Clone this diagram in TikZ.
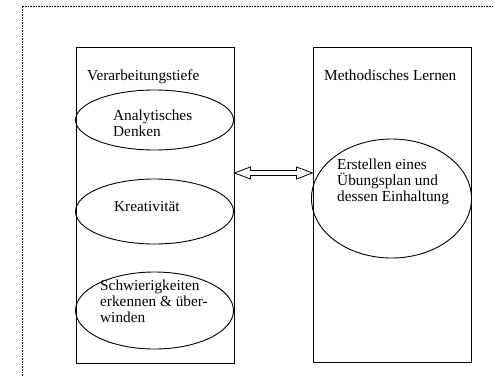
\documentclass[tikz,border=0pt]{standalone}
\usepackage{fontspec}
\setmainfont{Liberation Serif}
\usetikzlibrary{shapes.geometric,calc}
\begin{document}
\begin{tikzpicture}[x=1pt,y=-1pt,
  txt/.style={font=\fontsize{15.3}{15.8}\selectfont, inner sep=0pt, align=left},
  panel/.style={draw, line width=0.9pt},
  oval/.style={draw, ellipse, line width=0.9pt, inner sep=0pt},
  frame/.style={line width=0.6pt, dash pattern=on 0.8pt off 0.8pt},
  twoway/.style={draw, line width=0.8pt, fill=white, line join=miter}]
\useasboundingbox (0,0) rectangle (494,375);

% dotted outer frame, open towards the right and bottom
\coordinate (fbl) at (22,376);
\coordinate (ftl) at (22,6);
\coordinate (ftr) at (495,6);
\draw[frame] (fbl) -- (ftl) -- (ftr);

% the two panels
\node[panel, minimum width=158pt, minimum height=316pt, anchor=north west] (depth) at (75.5,47) {};
\node[panel, minimum width=158pt, minimum height=315pt, anchor=north west] (method) at (312.5,47) {};

\node[txt, anchor=base west] (depthT) at (87,80) {Verarbeitungstiefe};
\node[txt, anchor=base west] (methodT) at (324,80) {Methodisches Lernen};

% ovals in the left panel (text anchored at the baseline of its last line)
\node[oval, minimum width=158pt, minimum height=60pt] (e1) at (154.5,120) {};
\node[txt, anchor=base west] (e1T) at (113,136.5) {Analytisches\\Denken};

\node[oval, minimum width=158pt, minimum height=65pt] (e2) at (154.5,211.5) {};
\node[txt, anchor=base west] (e2T) at (114,211.5) {Kreativität};

\node[oval, minimum width=158pt, minimum height=77pt] (e3) at (154.5,310.5) {};
\node[txt, anchor=base west] (e3T) at (100,322) {Schwierigkeiten\\erkennen \& über-\\winden};

% oval in the right panel
\node[oval, minimum width=160pt, minimum height=119pt] (e4) at (391.5,198.5) {};
\node[txt, anchor=base west] (e4T) at (337,201.5) {Erstellen eines\\Übungsplan und\\dessen Einhaltung};

% hollow double arrow between the panels
\coordinate (aL) at (depth.east |- 0,173);
\coordinate (aR) at (method.west |- 0,173);
\draw[twoway]
  (aL) -- ($(aL)+(16,-6)$) -- ($(aL)+(16,-2.5)$) -- ($(aR)+(-16,-2.5)$) -- ($(aR)+(-16,-6)$)
  -- (aR) -- ($(aR)+(-16,6)$) -- ($(aR)+(-16,2.5)$) -- ($(aL)+(16,2.5)$) -- ($(aL)+(16,6)$) -- cycle;
\end{tikzpicture}
\end{document}
